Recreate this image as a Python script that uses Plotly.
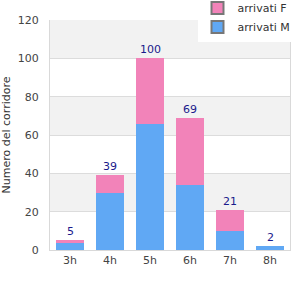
import plotly.graph_objects as go

categories = ["3h", "4h", "5h", "6h", "7h", "8h"]
males = [4, 30, 66, 34, 10, 2]
females = [1, 9, 34, 35, 11, 0]
totals = [m + f for m, f in zip(males, females)]

pink = "#f283b9"
blue = "#60a8f4"
font = "DejaVu Sans"

fig = go.Figure()
fig.add_trace(go.Bar(x=categories, y=males, marker=dict(color=blue, line=dict(width=0)),
                     showlegend=False, width=0.72))
fig.add_trace(go.Bar(x=categories, y=females, marker=dict(color=pink, line=dict(width=0)),
                     showlegend=False, width=0.72))
# legend entries
fig.add_trace(go.Scatter(x=[None], y=[None], mode="markers", name="arrivati M",
                         marker=dict(symbol="square", size=9, color=blue,
                                     line=dict(color="#777", width=1))))
fig.add_trace(go.Scatter(x=[None], y=[None], mode="markers", name="arrivati F",
                         marker=dict(symbol="square", size=9, color=pink,
                                     line=dict(color="#777", width=1))))

annotations = [dict(x=c, y=t, text=str(t), showarrow=False, yanchor="bottom", yshift=0,
                    font=dict(color="#1a1a8c", size=11, family=font))
               for c, t in zip(categories, totals)]

shapes = []
for lo in [20, 60, 100]:
    shapes.append(dict(type="rect", xref="paper", yref="y", x0=0, x1=1, y0=lo, y1=lo + 20,
                       fillcolor="#f2f2f2", line=dict(width=0), layer="below"))

fig.update_layout(
    width=300, height=300,
    margin=dict(l=50, r=10, t=20, b=50, autoexpand=False),
    barmode="stack",
    plot_bgcolor="white", paper_bgcolor="white",
    font=dict(family=font, size=11, color="#444"),
    shapes=shapes,
    annotations=annotations,
    legend=dict(traceorder="reversed", xref="container", yref="paper",
                x=0.985, xanchor="right", y=1.115, yanchor="top",
                bgcolor="white", font=dict(size=11, color="#333"),
                itemsizing="constant", tracegroupgap=0, itemwidth=30,
                borderwidth=0),
    xaxis=dict(showgrid=False, showline=True, linecolor="#d9d9d9", linewidth=1,
               ticks="", tickfont=dict(size=11, color="#444")),
    yaxis=dict(range=[0, 120], dtick=20, showgrid=True, gridcolor="#dcdcdc",
               showline=True, linecolor="#d9d9d9", mirror=True, zeroline=False,
               ticks="", ticklabelstandoff=8, tickfont=dict(size=11, color="#444"),
               title=dict(text="Numero del corridore", font=dict(size=11, color="#333"), standoff=4)),
)

fig.write_html("out.html")
